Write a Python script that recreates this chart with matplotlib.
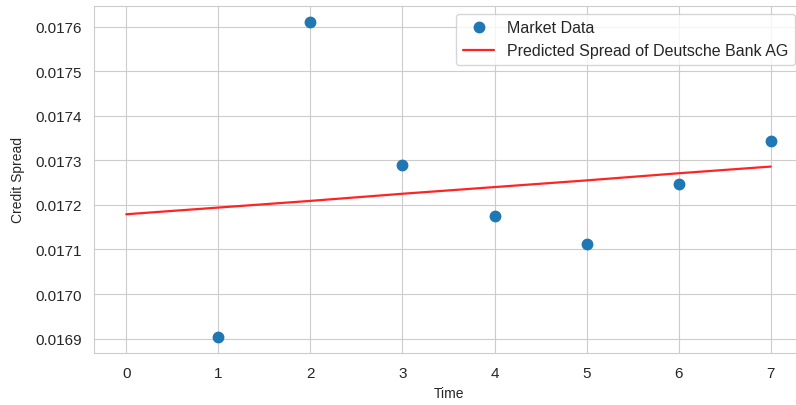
import matplotlib
matplotlib.use("Agg")
import matplotlib.pyplot as plt
import seaborn as sns

# market observations and fitted spread
time_obs = [1, 2, 3, 4, 5, 6, 7]
spread_obs = [0.016903, 0.017611, 0.017290, 0.017175, 0.017113, 0.017246, 0.017343]

time_fit = [0, 1, 2, 3, 4, 5, 6, 7]
spread_fit = [0.017179, 0.017194, 0.017209, 0.017225, 0.017240, 0.017255, 0.017271, 0.017286]

sns.set_style("whitegrid")
plt.rcParams['font.family'] = ['Liberation Sans', 'DejaVu Sans']

fig = plt.figure(figsize=(7.96, 4.06), dpi=100)
# axes run slightly past the right edge of the canvas
ax = fig.add_axes([94 / 796, 1 - 354 / 406, 709 / 796, 347 / 406])

ax.plot(time_obs, spread_obs, 'o', color='#1f77b4', markersize=7.5, label='Market Data')
ax.plot(time_fit, spread_fit, color='#ff2424', linewidth=1.6, label='Predicted Spread of Deutsche Bank AG')

ax.set_xlabel('Time', fontsize=10, labelpad=5)
ax.set_ylabel('Credit Spread', fontsize=10, labelpad=7)
ax.tick_params(labelsize=11, pad=5.5)
ax.yaxis.set_major_formatter(matplotlib.ticker.FormatStrFormatter('%.4f'))
ax.legend(loc='upper right', fontsize=11.5)

fig.savefig('out.png', dpi=100)
